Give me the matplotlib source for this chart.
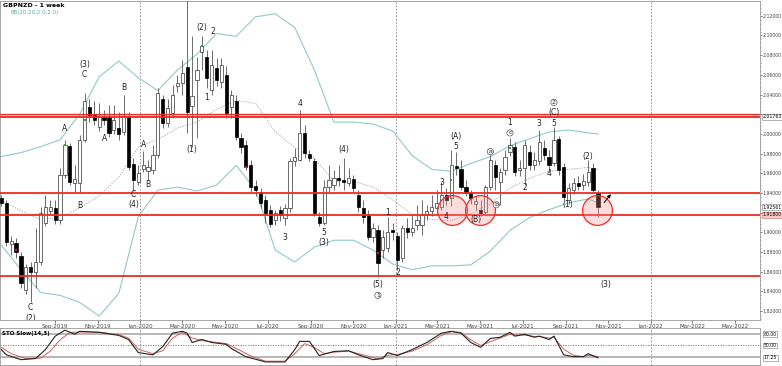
"""
GBPNZD weekly chart with Bollinger bands, wave labels and a slow stochastic panel
"""

import matplotlib
matplotlib.use("Agg")
import matplotlib.pyplot as plt
import matplotlib.dates as mdates
from matplotlib.ticker import MultipleLocator, FixedLocator, FuncFormatter
import numpy as np
import pandas as pd

# Weekly candles, first week starts 2019-06-16
week_start = "2019-06-16"
opens = [1.935, 1.930, 1.888, 1.889, 1.876, 1.841, 1.865, 1.860, 1.870, 1.910,
         1.922, 1.925, 1.913, 1.958, 1.988, 1.950, 1.950, 1.994, 2.027, 2.019,
         2.007, 2.017, 2.017, 2.004, 2.006, 2.002, 2.018, 1.969, 1.951, 1.964,
         1.962, 1.963, 1.979, 2.035, 2.011, 2.021, 2.049, 2.052, 2.068, 2.028,
         2.055, 2.083, 2.078, 2.045, 2.067, 2.053, 2.060, 2.027, 2.033, 1.996,
         1.989, 1.968, 1.947, 1.941, 1.933, 1.923, 1.913, 1.923, 1.915, 1.925,
         1.972, 1.974, 2.001, 1.980, 1.972, 1.916, 1.910, 1.946, 1.948, 1.955,
         1.953, 1.950, 1.954, 1.938, 1.925, 1.918, 1.895, 1.902, 1.882, 1.884,
         1.902, 1.896, 1.874, 1.904, 1.900, 1.907, 1.907, 1.918, 1.922, 1.925,
         1.926, 1.938, 1.935, 1.967, 1.964, 1.946, 1.940, 1.929, 1.923, 1.921,
         1.946, 1.968, 1.951, 1.963, 1.982, 1.987, 1.963, 1.965, 1.982, 1.968,
         1.972, 1.986, 1.977, 1.970, 1.995, 1.966, 1.933, 1.943, 1.950, 1.948,
         1.951, 1.965, 1.940]
highs = [1.938, 1.933, 1.896, 1.894, 1.880, 1.868, 1.870, 1.904, 1.926, 1.938,
         1.933, 1.933, 1.965, 1.994, 1.991, 1.968, 1.999, 2.042, 2.035, 2.033,
         2.031, 2.024, 2.029, 2.029, 2.022, 2.040, 2.022, 1.976, 1.968, 1.983,
         1.974, 1.989, 2.047, 2.040, 2.035, 2.050, 2.060, 2.075, 2.160, 2.099,
         2.078, 2.099, 2.085, 2.085, 2.077, 2.077, 2.069, 2.045, 2.040, 2.001,
         1.994, 1.974, 1.953, 1.945, 1.938, 1.928, 1.923, 1.927, 1.929, 1.976,
         1.986, 2.024, 2.009, 1.984, 1.976, 1.921, 1.953, 1.968, 1.963, 1.968,
         1.976, 1.965, 1.958, 1.943, 1.933, 1.923, 1.910, 1.907, 1.902, 1.916,
         1.910, 1.900, 1.907, 1.915, 1.918, 1.928, 1.933, 1.928, 1.938, 1.943,
         1.951, 1.945, 1.984, 1.982, 1.974, 1.953, 1.943, 1.937, 1.933, 1.948,
         1.979, 1.974, 1.965, 1.984, 1.996, 1.992, 1.974, 1.994, 1.989, 1.982,
         2.004, 1.994, 1.984, 2.007, 1.998, 1.970, 1.950, 1.955, 1.957, 1.959,
         1.974, 1.970, 1.943]
lows = [1.927, 1.886, 1.877, 1.874, 1.843, 1.837, 1.829, 1.843, 1.867, 1.906,
        1.919, 1.908, 1.908, 1.955, 1.948, 1.941, 1.940, 1.992, 2.012, 2.009,
        2.003, 2.009, 1.997, 2.000, 1.994, 1.999, 1.963, 1.942, 1.948, 1.961,
        1.953, 1.959, 1.976, 2.006, 2.007, 2.016, 2.043, 2.040, 2.001, 1.987,
        1.996, 2.065, 2.047, 2.040, 2.049, 2.047, 2.016, 2.016, 1.994, 1.981,
        1.963, 1.941, 1.937, 1.925, 1.910, 1.905, 1.907, 1.912, 1.907, 1.921,
        1.967, 1.972, 1.976, 1.972, 1.917, 1.906, 1.907, 1.941, 1.943, 1.947,
        1.943, 1.947, 1.941, 1.921, 1.910, 1.892, 1.890, 1.855, 1.874, 1.880,
        1.892, 1.862, 1.870, 1.894, 1.896, 1.902, 1.897, 1.913, 1.917, 1.921,
        1.923, 1.928, 1.927, 1.958, 1.943, 1.937, 1.929, 1.923, 1.917, 1.918,
        1.943, 1.943, 1.928, 1.958, 1.978, 1.957, 1.957, 1.948, 1.963, 1.963,
        1.968, 1.974, 1.961, 1.967, 1.958, 1.933, 1.929, 1.939, 1.943, 1.943,
        1.947, 1.940, 1.916]
closes = [1.930, 1.890, 1.891, 1.880, 1.849, 1.865, 1.860, 1.870, 1.920, 1.926,
          1.926, 1.913, 1.958, 1.989, 1.951, 1.954, 1.994, 2.033, 2.019, 2.014,
          2.017, 2.014, 2.001, 2.014, 2.000, 2.018, 1.966, 1.953, 1.960, 1.968,
          1.966, 1.979, 2.042, 2.011, 2.026, 2.040, 2.052, 2.062, 2.022, 2.038,
          2.065, 2.089, 2.057, 2.070, 2.055, 2.070, 2.021, 2.040, 1.997, 1.987,
          1.966, 1.946, 1.943, 1.930, 1.920, 1.909, 1.920, 1.918, 1.925, 1.972,
          1.977, 2.001, 1.981, 1.976, 1.920, 1.910, 1.946, 1.953, 1.955, 1.953,
          1.951, 1.955, 1.945, 1.926, 1.916, 1.895, 1.904, 1.869, 1.895, 1.900,
          1.900, 1.872, 1.904, 1.900, 1.904, 1.913, 1.918, 1.922, 1.926, 1.930,
          1.938, 1.933, 1.968, 1.965, 1.946, 1.940, 1.935, 1.932, 1.920, 1.946,
          1.974, 1.956, 1.961, 1.977, 1.989, 1.961, 1.965, 1.989, 1.968, 1.974,
          1.992, 1.979, 1.968, 1.994, 1.963, 1.936, 1.945, 1.950, 1.947, 1.952,
          1.961, 1.943, 1.926]

# Bollinger bands every 4 weeks (week index)
bb_weeks = [0, 4, 8, 12, 16, 20, 24, 28, 32, 36, 40, 44, 48, 52, 56, 60,
            64, 68, 72, 76, 80, 84, 88, 92, 96, 100, 104, 108, 112, 116, 120, 122]
bb_upper = [1.977, 1.981, 1.987, 1.994, 2.020, 2.058, 2.074, 2.057, 2.044, 2.065,
            2.081, 2.102, 2.099, 2.119, 2.122, 2.108, 2.065, 2.012, 2.012, 2.010,
            2.003, 1.978, 1.964, 1.962, 1.970, 1.977, 1.988, 1.995, 2.002, 2.004,
            2.001, 2.000]
bb_middle = [1.932, 1.922, 1.913, 1.915, 1.925, 1.937, 1.956, 1.987, 1.994, 2.006,
             2.012, 2.025, 2.034, 2.031, 2.002, 1.986, 1.975, 1.952, 1.952, 1.946,
             1.933, 1.918, 1.913, 1.912, 1.919, 1.929, 1.945, 1.955, 1.962, 1.964,
             1.966, 1.964]
bb_lower = [1.887, 1.862, 1.839, 1.836, 1.829, 1.815, 1.838, 1.916, 1.943, 1.946,
            1.942, 1.948, 1.968, 1.943, 1.882, 1.870, 1.885, 1.892, 1.892, 1.882,
            1.868, 1.862, 1.866, 1.866, 1.867, 1.881, 1.902, 1.915, 1.923, 1.930,
            1.934, 1.930]

# Slow stochastic (14,3)
sto_k_weeks = [0, 1, 4, 7, 9, 11, 13, 15, 16, 20, 24, 26, 28, 31, 33, 35, 37, 38,
               39, 41, 43, 46, 47, 50, 54, 58, 60, 61, 63, 65, 68, 71, 73, 76, 78,
               79, 81, 84, 87, 90, 92, 94, 96, 98, 100, 102, 104, 105, 107, 109,
               110, 112, 113, 115, 117, 119, 120, 122]
sto_k = [39, 25, 12, 15, 39, 75, 91, 80, 88, 85, 77, 66, 31, 25, 47, 83, 88, 83,
         58, 66, 58, 53, 42, 20, 6, 6, 39, 61, 61, 23, 34, 36, 25, 12, 15,
         31, 23, 39, 58, 83, 88, 83, 58, 45, 69, 72, 85, 75, 80, 72,
         75, 66, 75, 25, 20, 20, 28, 17]
sto_d_weeks = [0, 2, 5, 8, 10, 12, 14, 16, 20, 24, 26, 28, 31, 33, 35, 37, 39, 41,
               43, 46, 48, 51, 54, 58, 60, 62, 64, 66, 68, 71, 74, 77, 79, 81, 84,
               87, 90, 92, 94, 96, 98, 100, 102, 104, 105, 107, 109, 110, 112, 113,
               115, 117, 119, 120, 122]
sto_d = [45, 28, 15, 16, 35, 65, 85, 86, 86, 79, 70, 40, 28, 36, 70, 85, 70, 63,
         60, 55, 42, 22, 8, 8, 28, 55, 45, 28, 32, 35, 25, 14, 24, 26, 35,
         52, 77, 87, 85, 65, 50, 60, 70, 80, 78, 78, 74, 74, 70, 72,
         40, 24, 20, 24, 20]

# Horizontal support / resistance levels
red_levels = [2.0176, 1.9400, 1.9180, 1.8556]

# x-axis month labels shown on the chart
month_ticks = ["2019-09-01", "2019-11-01", "2020-01-01", "2020-03-01", "2020-05-01",
               "2020-07-01", "2020-09-01", "2020-11-01", "2021-01-01", "2021-03-01",
               "2021-05-01", "2021-07-01", "2021-09-01", "2021-11-01", "2022-01-01",
               "2022-03-01", "2022-05-01"]

# Wave labels: (week index, price, text, circled)
wave_labels = [
    (6, 1.824, "C", False), (6, 1.813, "(2)", False),
    (13, 2.005, "A", False), (17, 2.070, "(3)", False), (17, 2.060, "C", False),
    (16, 1.927, "B", False), (21, 1.995, "A", False), (25, 2.047, "B", False),
    (27, 1.938, "C", False), (27, 1.928, "(4)", False),
    (29, 1.989, "A", False), (30, 1.949, "B", False),
    (39, 1.984, "(1)", False), (41, 2.108, "(2)", False), (43.2, 2.104, "2", False),
    (42, 2.037, "1", False), (58, 1.895, "3", False), (61, 2.031, "4", False),
    (66, 1.900, "5", False), (66, 1.890, "(3)", False), (70, 1.984, "(4)", False),
    (77, 1.847, "(5)", False), (77, 1.836, "1", True),
    (79, 1.920, "1", False), (81, 1.859, "2", False),
    (90, 1.951, "3", False), (91, 1.916, "4", False),
    (93, 1.997, "(A)", False), (93, 1.987, "5", False), (97, 1.913, "(B)", False),
    (100, 1.982, "a", True), (101.2, 1.928, "b", True),
    (104, 2.001, "c", True), (104, 2.012, "1", False),
    (107, 1.946, "2", False), (110, 2.011, "3", False), (112, 1.960, "4", False),
    (113, 2.011, "5", False), (113, 2.022, "(C)", False), (113, 2.032, "2", True),
    (115.8, 1.928, "(1)", False), (120, 1.977, "(2)", False), (123.7, 1.847, "(3)", False),
]

# Red circles around the retests (week index, price)
circle_weeks = [92.1, 97.8, 121.9]
circle_prices = [1.9227, 1.9227, 1.9227]

green_marks = [(13, 1.989), (17, 2.014), (41, 2.089), (92, 1.953), (104, 1.986)]
red_marks = [(3, 1.882), (50, 1.966), (77, 1.879)]

BB_COLOR = "#8fcaca"
RED = "#ee2b24"
SCALE_FONT = 3.3


def week_x(idx):
    """Week index (can be fractional) to matplotlib date number"""
    return mdates.date2num(pd.Timestamp(week_start)) + 7 * np.asarray(idx, dtype=float)


def draw_candles(ax):
    """Black / white weekly candles"""
    o = np.array(opens)
    c = np.array(closes)
    x = week_x(np.arange(len(closes)))
    up = c >= o
    bottom = np.minimum(o, c)
    height = np.maximum(np.abs(c - o), 0.0008)

    ax.vlines(x, lows, highs, color="#555555", lw=0.6, zorder=3)
    ax.bar(x[up], height[up], bottom=bottom[up], width=4.6, color="white",
           edgecolor="#333333", linewidth=0.5, zorder=4)
    ax.bar(x[~up], height[~up], bottom=bottom[~up], width=4.6, color="black",
           edgecolor="black", linewidth=0.5, zorder=4)


def price_label(value, pos):
    # 2.02 and 1.92 sit under the value boxes on the scale
    if abs(value - 2.02) < 1e-6 or abs(value - 1.92) < 1e-6:
        return ""
    return "%.5f" % value


def draw_main(ax):
    """Price panel"""
    xb = week_x(bb_weeks)
    ax.plot(xb, bb_upper, color=BB_COLOR, lw=0.8, zorder=2)
    ax.plot(xb, bb_lower, color=BB_COLOR, lw=0.8, zorder=2)
    ax.plot(xb, bb_middle, color="#a0a0a0", lw=0.6, ls=(0, (1.5, 1.5)), zorder=2)

    # resistance / support lines
    ax.axhspan(2.0176, 2.0205, color="#dddddd", zorder=1)
    ax.axhline(2.0205, color=RED, lw=0.9, zorder=5)
    for lvl in red_levels:
        ax.axhline(lvl, color=RED, lw=1.3, zorder=5)

    draw_candles(ax)

    gx, gy = zip(*green_marks)
    ax.scatter(week_x(gx), gy, s=3, marker="s", color="#33a02c", zorder=6, lw=0)
    rx, ry = zip(*red_marks)
    ax.scatter(week_x(rx), ry, s=3, marker="s", color="#d62020", zorder=6, lw=0)

    ax.scatter(week_x(circle_weeks), circle_prices, s=460, marker="o",
               facecolor=(1.0, 0.55, 0.55, 0.3), edgecolor=RED, lw=0.9, zorder=7)

    ax.annotate("", xy=(week_x(125.0), 1.941), xytext=(week_x(122.9), 1.928),
                arrowprops=dict(arrowstyle="-|>", color="black", lw=0.7,
                                mutation_scale=5), zorder=8)

    for idx, price, txt, circled in wave_labels:
        kw = dict(ha="center", va="center", fontsize=5.5, color="#222222", zorder=9)
        if circled:
            kw["bbox"] = dict(boxstyle="circle,pad=0.1", fc="white", ec="#555555", lw=0.5)
            kw["fontsize"] = 4.5
        t = ax.text(week_x(idx), price, txt, **kw)
        t.set_clip_on(True)

    # axes cosmetics
    ax.set_ylim(1.811, 2.135)
    ax.yaxis.tick_right()
    ax.yaxis.set_major_locator(MultipleLocator(0.02))
    ax.yaxis.set_minor_locator(MultipleLocator(0.004))
    ax.yaxis.set_major_formatter(FuncFormatter(price_label))
    ax.tick_params(axis="y", labelsize=SCALE_FONT, length=1.5, width=0.5,
                   colors="#444444", pad=0.5)
    ax.tick_params(axis="y", which="minor", length=1, width=0.4, colors="#666666")
    ax.xaxis.set_major_locator(FixedLocator(mdates.date2num(pd.to_datetime(month_ticks))))
    ax.xaxis.set_major_formatter(mdates.DateFormatter("%b-%Y"))
    ax.tick_params(axis="x", labelsize=4, length=2, width=0.5, colors="#444444", pad=1)

    # value boxes on the price scale
    box = dict(boxstyle="square,pad=0.1", fc="white", ec="#777777", lw=0.4)
    tr = ax.get_yaxis_transform()
    ax.text(1.003, 2.0176, "2.01763", transform=tr, fontsize=SCALE_FONT, va="center", bbox=box)
    ax.text(1.003, 1.9256, "1.92561", transform=tr, fontsize=SCALE_FONT, va="center", bbox=box)
    ax.text(1.003, 1.9180, "1.91800", transform=tr, fontsize=SCALE_FONT, va="center",
            bbox=dict(boxstyle="square,pad=0.1", fc="#f6c8c8", ec="#cc6666", lw=0.4))


def draw_stochastic(ax):
    """STO Slow(14,3) panel"""
    ax.axhline(80, color="#aaaaaa", lw=1.2)
    ax.axhline(20, color="#aaaaaa", lw=1.2)
    ax.axhline(50, color="#777777", lw=0.6, ls=(0, (1.5, 1.5)))
    ax.plot(week_x(sto_d_weeks), sto_d, color="#d0605a", lw=0.7)
    ax.plot(week_x(sto_k_weeks), sto_k, color="#222222", lw=0.8)
    ax.set_ylim(-2, 97)
    ax.set_yticks([])
    ax.tick_params(axis="x", length=0, labelbottom=False)
    ax.text(0.003, 0.93, "STO Slow(14,3)", transform=ax.transAxes, fontsize=4,
            weight="bold", va="top")
    box = dict(boxstyle="square,pad=0.1", fc="white", ec="#777777", lw=0.4)
    for val, txt in [(80, "80.00"), (50, "50.00"), (17.25, "17.25")]:
        ax.text(1.005, val, txt, transform=ax.get_yaxis_transform(), fontsize=SCALE_FONT,
                va="center", bbox=box)


def main():
    fig = plt.figure(figsize=(7.82, 3.66), dpi=100)
    ax = fig.add_axes([0.0, 0.1257, 0.9719, 0.8716])
    ax2 = fig.add_axes([0.0, 0.003, 0.9719, 0.101], sharex=ax)

    draw_main(ax)
    draw_stochastic(ax2)

    ax.set_xlim(mdates.date2num(pd.Timestamp("2019-06-14")),
                mdates.date2num(pd.Timestamp("2022-06-06")))

    for a in (ax, ax2):
        for s in a.spines.values():
            s.set_color("#999999")
            s.set_linewidth(0.6)
        for yr in ("2020-01-01", "2021-01-01", "2022-01-01"):
            a.axvline(mdates.date2num(pd.Timestamp(yr)), color="#888888", lw=0.6,
                      ls=(0, (2, 2)), zorder=1)

    fig.text(0.004, 0.993, "GBPNZD - 1 week", fontsize=4.5, weight="bold", va="top")
    fig.text(0.013, 0.972, "BB(20,20,2.0,2.0)", fontsize=4, color="#5aaeae", va="top")

    fig.savefig("out.png", dpi=100)
    print("Saved out.png")


if __name__ == "__main__":
    main()
